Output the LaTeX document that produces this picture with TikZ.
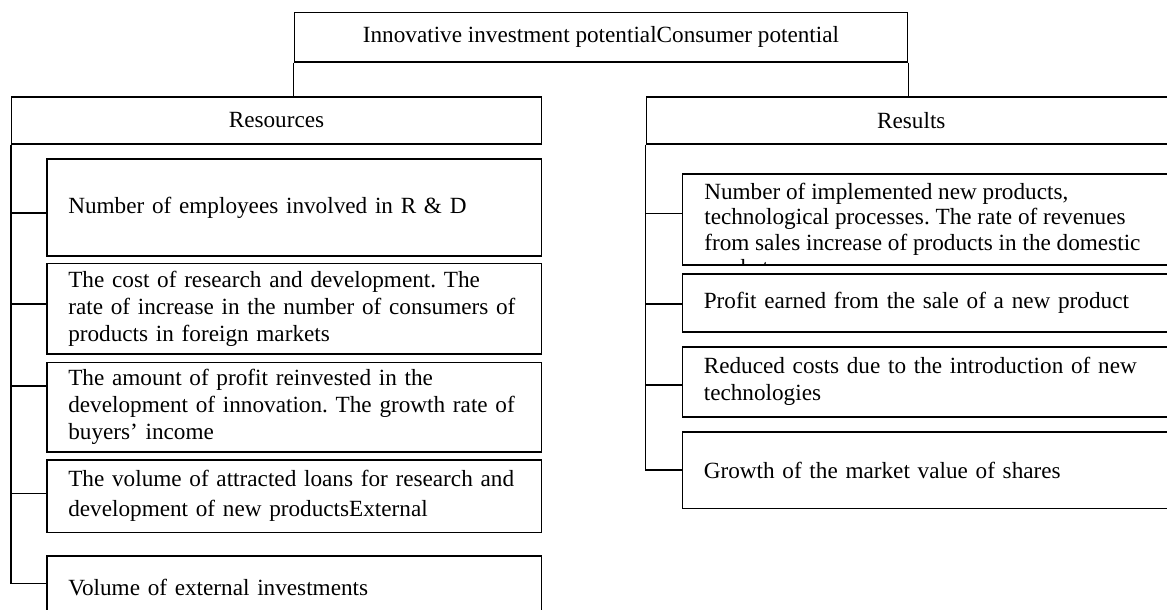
\documentclass[tikz,border=0pt]{standalone}
\usepackage{fontspec}
\setmainfont{Liberation Serif}

\begin{document}
\begin{tikzpicture}[x=0.5pt, y=-0.5pt, line width=0.8pt,
  every node/.style={font=\fontsize{11.6}{13.5}\selectfont\frenchspacing},
  box/.style={draw, rectangle, anchor=north west, inner ysep=1pt},
  head/.style={box, minimum width=265pt, minimum height=23.65pt},
  item/.style={box, align=left, text width=226pt, inner xsep=10.6pt}]
  \useasboundingbox (0,0) rectangle (1167,610);
  \fill[white] (0,0) rectangle (1167,610);
  \clip (0,0) rectangle (1167,610);

  \node[box, minimum width=306.65pt, minimum height=24.65pt] (pot) at (293.5,11.7) {Innovative investment potentialConsumer potential};
  \node[head] (res) at (10.7,96) {Resources};
  \node[head] (rsl) at (645.5,96) {Results};

  \node[item, minimum height=48.35pt] (emp) at (46.3,158.3) {Number of employees involved in R \& D};
  \node[item, minimum height=45.3pt] (cost) at (46.3,262.7) {The cost of research and development. The\\ rate of increase in the number of consumers of\\ products in foreign markets};
  \node[item, minimum height=44.65pt] (prof) at (46.3,361.7) {The amount of profit reinvested in the\\ development of innovation. The growth rate of\\ buyers’ income};
  \node[item, minimum height=36.35pt, font=\fontsize{11.6}{15}\selectfont\frenchspacing] (loan) at (46.3,459) {The volume of attracted loans for research and\\ development of new productsExternal};
  \node[item, minimum height=32pt] (ext) at (46.3,555) {Volume of external investments};

  \node[item, minimum height=45.5pt] (impl) at (681.8,173.3) {};
  \begin{scope}
    \clip (impl.north west) rectangle (impl.south east);
    \node[anchor=north west, align=left, inner sep=0pt, font=\fontsize{11.6}{12.75}\selectfont\frenchspacing] (implt) at (703.5,182) {Number of implemented new products,\\ technological processes. The rate of revenues\\ from sales increase of products in the domestic\\ market};
  \end{scope}
  \node[item, minimum height=28.85pt] (sale) at (681.8,273.3) {Profit earned from the sale of a new product};
  \node[item, minimum height=35pt] (cut) at (681.8,346) {Reduced costs due to the introduction of new\\ technologies};
  \node[item, minimum height=38.35pt] (shr) at (681.8,431) {Growth of the market value of shares};

  \draw (pot.south west) -- (pot.south west |- res.north);
  \draw (pot.south east) -- (pot.south east |- rsl.north);
  \foreach \n/\dy in {emp/-2.8, cost/2.35, prof/10.7, loan/1.3, ext/2.15}
    \draw (res.south west) |- ([yshift=\dy pt]\n.west);
  \foreach \n/\dy in {impl/3.05, sale/-0.6, cut/-1.5, shr/0}
    \draw (rsl.south west) |- ([yshift=\dy pt]\n.west);
\end{tikzpicture}
\end{document}
